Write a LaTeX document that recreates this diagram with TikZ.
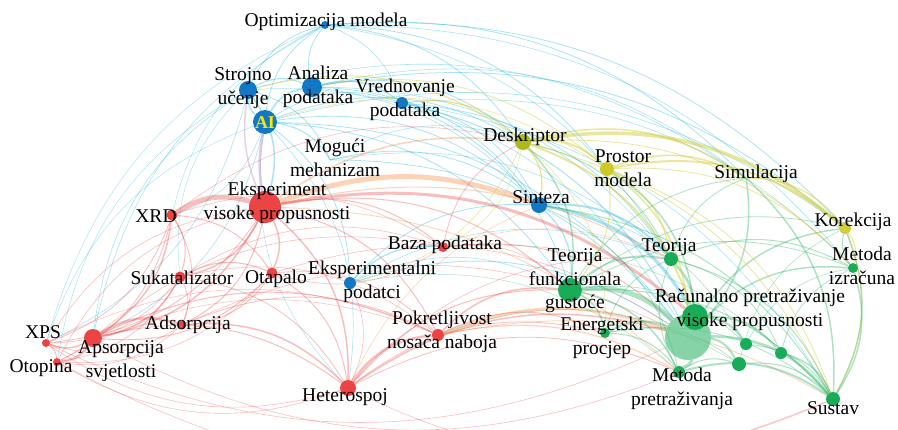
\documentclass[tikz,border=0pt]{standalone}
\usepackage{fontspec}
\setmainfont{Liberation Serif}
\usetikzlibrary{backgrounds}
\definecolor{vosred}{RGB}{236,68,68}
\definecolor{vosblue}{RGB}{16,120,196}
\definecolor{vosgreen}{RGB}{24,172,88}
\definecolor{vosyellow}{RGB}{206,200,40}
\definecolor{vosolive}{RGB}{172,184,30}
\definecolor{aiyellow}{RGB}{250,232,0}
\tikzset{
  kw/.style={circle,inner sep=0pt,minimum size=#1},
  lbl/.style={font=\fontsize{19.5}{23.5}\selectfont,align=center,inner sep=0pt},
  redlink/.style={draw=vosred,draw opacity=0.35,line width=#1},
  bluelink/.style={draw=vosblue!60!cyan,draw opacity=0.35,line width=#1},
  greenlink/.style={draw=vosgreen,draw opacity=0.35,line width=#1},
  yellowlink/.style={draw=vosyellow,draw opacity=0.45,line width=#1},
  mixlink/.style={draw=orange!70!vosred,draw opacity=0.3,line width=#1}
}

\begin{document}
\begin{tikzpicture}[x=1pt,y=-1pt]
  \useasboundingbox (0,0) rectangle (898,429);
  % blue cluster
  \node[kw=8,fill=vosblue] (opt) at (325,25) {};
  \node[kw=18,fill=vosblue] (stro) at (248,90) {};
  \node[kw=20,fill=vosblue] (anal) at (312,87) {};
  \node[kw=12,fill=vosblue] (vred) at (402,103) {};
  \node[kw=24,fill=vosblue] (ai) at (265,122) {};
  \coordinate (mog) at (330,160);
  \node[kw=12,fill=vosblue] (ekspd) at (350,283) {};
  \node[kw=16,fill=vosblue] (sint) at (539,205) {};
  % red cluster
  \node[kw=32,fill=vosred] (eksp) at (265,207) {};
  \node[kw=11,fill=vosred] (xrd) at (172,215) {};
  \node[kw=11,fill=vosred] (suk) at (180,277) {};
  \node[kw=11,fill=vosred] (otap) at (272,273) {};
  \node[kw=10,fill=vosred] (baza) at (443,247) {};
  \node[kw=9,fill=vosred] (ads) at (182,325) {};
  \node[kw=8,fill=vosred] (xps) at (46,343) {};
  \node[kw=18,fill=vosred] (aps) at (93,338) {};
  \node[kw=8,fill=vosred] (otop) at (57,362) {};
  \node[kw=16,fill=vosred] (het) at (348,388) {};
  \node[kw=12,fill=vosred] (pok) at (438,335) {};
  % yellow cluster
  \node[kw=16,fill=vosolive] (desk) at (523,142) {};
  \node[kw=14,fill=vosyellow] (pros) at (607,169) {};
  \coordinate (sim) at (746,178);
  \node[kw=12,fill=vosyellow!90!white] (kor) at (845,228) {};
  % green cluster
  \node[kw=14,fill=vosgreen] (teor) at (671,259) {};
  \node[kw=24,fill=vosgreen] (dft) at (570,290) {};
  \node[kw=10,fill=vosgreen] (mizr) at (853,268) {};
  \node[kw=46,fill=vosgreen!75!white,fill opacity=0.7] (rac) at (688,337) {};
  \node[kw=26,fill=vosgreen] (rac2) at (695,317) {};
  \node[kw=10,fill=vosgreen] (enr) at (605,333) {};
  \node[kw=12,fill=vosgreen] (mpre) at (679,372) {};
  \node[kw=14,fill=vosgreen] (sust) at (833,399) {};
  \node[kw=12,fill=vosgreen] (g1) at (746,344) {};
  \node[kw=14,fill=vosgreen] (g2) at (739,364) {};
  \node[kw=12,fill=vosgreen] (g3) at (781,353) {};

  \begin{scope}[on background layer]
    \foreach \a/\b/\w in {ai/stro/1.5,ai/anal/1.5,stro/anal/1,ai/opt/0.8,stro/opt/0.8,
        anal/opt/0.8,anal/vred/1.2,ai/vred/0.8,ai/mog/1,stro/eksp/1.5,ai/sint/0.8,
        ai/ekspd/0.8,ai/rac/0.8,ai/dft/0.8,ai/desk/0.8,anal/desk/0.8,anal/sint/0.8,
        vred/rac/1,vred/teor/0.8,vred/dft/0.8,opt/desk/0.8,opt/kor/0.8,opt/sim/0.8,
        opt/pros/0.8,anal/kor/0.8,mog/rac/0.8,mog/sint/0.8,ekspd/baza/1.2,ekspd/sint/0.8,
        sint/rac2/3,sint/teor/2,sint/dft/1.2,ai/xrd/0.6,stro/xps/0.6,ai/aps/0.6,
        opt/mizr/0.6,ekspd/dft/0.6,anal/sim/0.6,vred/sust/0.6,stro/sim/0.6,
        ai/kor/0.6,vred/mizr/0.6,anal/teor/0.6,opt/teor/0.6,stro/sint/0.6,
        mog/teor/0.6,ekspd/teor/0.6,ekspd/rac/0.8,vred/sint/0.8,anal/rac/0.6,
        stro/mog/0.8,opt/vred/0.6,mog/desk/0.6,ai/het/0.6}
      \draw[bluelink=\w] (\a) to[bend left=25] (\b);
    \foreach \a/\b/\w in {aps/opt/0.6,xps/opt/0.5,otop/stro/0.5,xrd/opt/0.5,
        aps/stro/0.6,xps/ai/0.5,het/ai/0.5,suk/stro/0.5}
      \draw[bluelink=\w] (\a) to[bend left=25] (\b);
    \draw[draw=violet!60,draw opacity=0.35,line width=2.5] (ai) to[bend right=10] (eksp);
    \draw[draw=violet!60,draw opacity=0.3,line width=1.5] (stro) to[bend right=15] (eksp);
    \foreach \a/\b/\w in {xrd/eksp/5,eksp/suk/1.5,eksp/otap/1.5,eksp/ads/1,eksp/aps/1.5,
        eksp/het/1.5,eksp/xps/0.8,eksp/rac2/3,eksp/baza/1,eksp/pok/1,
        eksp/dft/1,xrd/suk/1,xrd/aps/1.5,xrd/xps/0.8,xrd/otop/0.8,
        xrd/ads/0.8,xrd/otap/1,suk/aps/1.5,suk/otap/1,suk/het/0.8,suk/ads/0.8,
        otap/aps/1,otap/het/1,otap/ads/0.8,aps/ads/2.5,ads/het/1.5,aps/xps/1.5,
        aps/otop/2.5,xps/otop/1,aps/het/1,het/pok/2.5,het/rac/1.5,het/dft/1,
        pok/dft/1.5,pok/enr/1,baza/rac/1,baza/desk/0.8,aps/pok/1,
        het/xps/0.6,het/otop/0.6,sust/otop/0.6,rac/xps/0.6,mpre/aps/0.6,
        het/mpre/0.8,sust/het/0.6,xrd/desk/0.6,xps/eksp/0.6,otop/eksp/0.6,
        suk/xps/0.6,ads/xps/0.6,otap/otop/0.6,suk/otop/0.6,ads/otop/0.6,
        baza/otap/0.6,ekspd/het/0.6,ads/pok/0.8,otap/pok/0.8,suk/pok/0.6,
        otap/rac/0.6,ads/rac/0.6,het/enr/0.8,het/teor/0.6,baza/dft/0.6,
        suk/baza/0.6,xrd/baza/0.6,aps/baza/0.6,otop/pok/0.5,xps/pok/0.5}
      \draw[redlink=\w] (\a) to[bend left=25] (\b);
    \foreach \a/\b/\w in {eksp/sint/5,pok/rac/3,eksp/desk/1.5,eksp/teor/1,
        pok/mpre/1.2,pok/sust/0.8,eksp/mpre/0.8,baza/teor/0.6,het/sint/0.6}
      \draw[mixlink=\w] (\a) to[bend left=20] (\b);
    \foreach \a/\b/\w in {dft/rac/5,teor/rac/2.5,enr/rac/2,rac/mpre/3,rac/sust/2.5,
        rac/mizr/1.5,rac/kor/1.5,sim/rac/1.5,rac2/g1/2,rac/g2/2,rac2/g3/2,dft/teor/1.5,
        dft/enr/1.5,dft/mpre/1.5,dft/sust/1,teor/sust/1,teor/mizr/1,mizr/sust/1.5,
        kor/sust/1.5,g1/sust/1,g2/sust/1,g3/sust/1.5,sim/sust/1.5,mpre/sust/2,
        enr/mpre/1,teor/sim/0.8,mizr/kor/1,desk/dft/1.5,desk/teor/1,pros/rac2/1.5,
        g3/mizr/0.8,dft/kor/0.8,enr/sust/0.8,teor/g3/0.8,sint/sust/1,
        dft/sim/0.8,dft/mizr/0.8,enr/teor/0.8,mpre/teor/0.8,g1/mizr/0.6,
        g2/kor/0.6,mpre/g2/1,enr/g2/0.6,sint/mpre/0.8,sint/g1/0.6,dft/g1/0.6,
        ekspd/mpre/0.5,baza/sust/0.5,pok/g2/0.5}
      \draw[greenlink=\w] (\a) to[bend left=25] (\b);
    \foreach \a/\b/\w in {desk/pros/2,desk/kor/3.5,desk/sim/1.5,pros/kor/2,pros/sim/1.5,
        desk/rac2/2,desk/sint/1.5,pros/rac/1.5,kor/mizr/1,vred/desk/1,stro/desk/1,
        pros/dft/1,kor/sust/1,desk/ekspd/0.6,anal/pros/0.8,desk/mizr/0.8,
        pros/teor/1,pros/sust/0.8,desk/sust/0.8,pros/mizr/0.8,sim/kor/1.2,
        desk/enr/0.6,ai/pros/0.6,desk/baza/0.6}
      \draw[yellowlink=\w] (\a) to[bend left=25] (\b);
  \end{scope}

  % labels
  \node[lbl] (lopt) at (326,22) {Optimizacija modela};
  \node[lbl] (lstro) at (243,88) {Strojno\\učenje};
  \node[lbl] (lanal) at (318,87) {Analiza\\podataka};
  \node[lbl] (lvred) at (405,100) {Vrednovanje\\podataka};
  \node[font=\fontsize{18}{18}\selectfont\bfseries,text=aiyellow,inner sep=0pt] (lai) at (265,123) {AI};
  \node[lbl] (lmog) at (335,158) {Mogući\\mehanizam};
  \node[lbl] (leksp) at (277,203) {Eksperiment\\visoke propusnosti};
  \node[lbl] (lxrd) at (156,216) {XRD};
  \node[lbl] (lsuk) at (182,278) {Sukatalizator};
  \node[lbl] (lotap) at (276,279) {Otapalo};
  \node[lbl] (lekspd) at (372,282) {Eksperimentalni\\podatci};
  \node[lbl] (lbaza) at (445,245) {Baza podataka};
  \node[lbl] (lads) at (188,325) {Adsorpcija};
  \node[lbl] (lxps) at (43,332) {XPS};
  \node[lbl] (laps) at (121,361) {Apsorpcija\\svjetlosti};
  \node[lbl] (lotop) at (41,368) {Otopina};
  \node[lbl] (lhet) at (345,397) {Heterospoj};
  \node[lbl] (lpok) at (442,332) {Pokretljivost\\nosača naboja};
  \node[lbl] (ldesk) at (525,137) {Deskriptor};
  \node[lbl] (lpros) at (623,168) {Prostor\\modela};
  \node[lbl] (lsim) at (756,174) {Simulacija};
  \node[lbl] (lkor) at (853,222) {Korekcija};
  \node[lbl] (lsint) at (541,197) {Sinteza};
  \node[lbl] (lteor) at (669,247) {Teorija};
  \node[lbl] (ldft) at (575,281) {Teorija\\funkcionala\\gustoće};
  \node[lbl] (lmizr) at (862,266) {Metoda\\izračuna};
  \node[lbl] (lrac) at (750,310) {Računalno pretraživanje\\visoke propusnosti};
  \node[lbl] (lenr) at (602,338) {Energetski\\procjep};
  \node[lbl] (lmpre) at (682,389) {Metoda\\pretraživanja};
  \node[lbl] (lsust) at (833,408) {Sustav};
\end{tikzpicture}
\end{document}
